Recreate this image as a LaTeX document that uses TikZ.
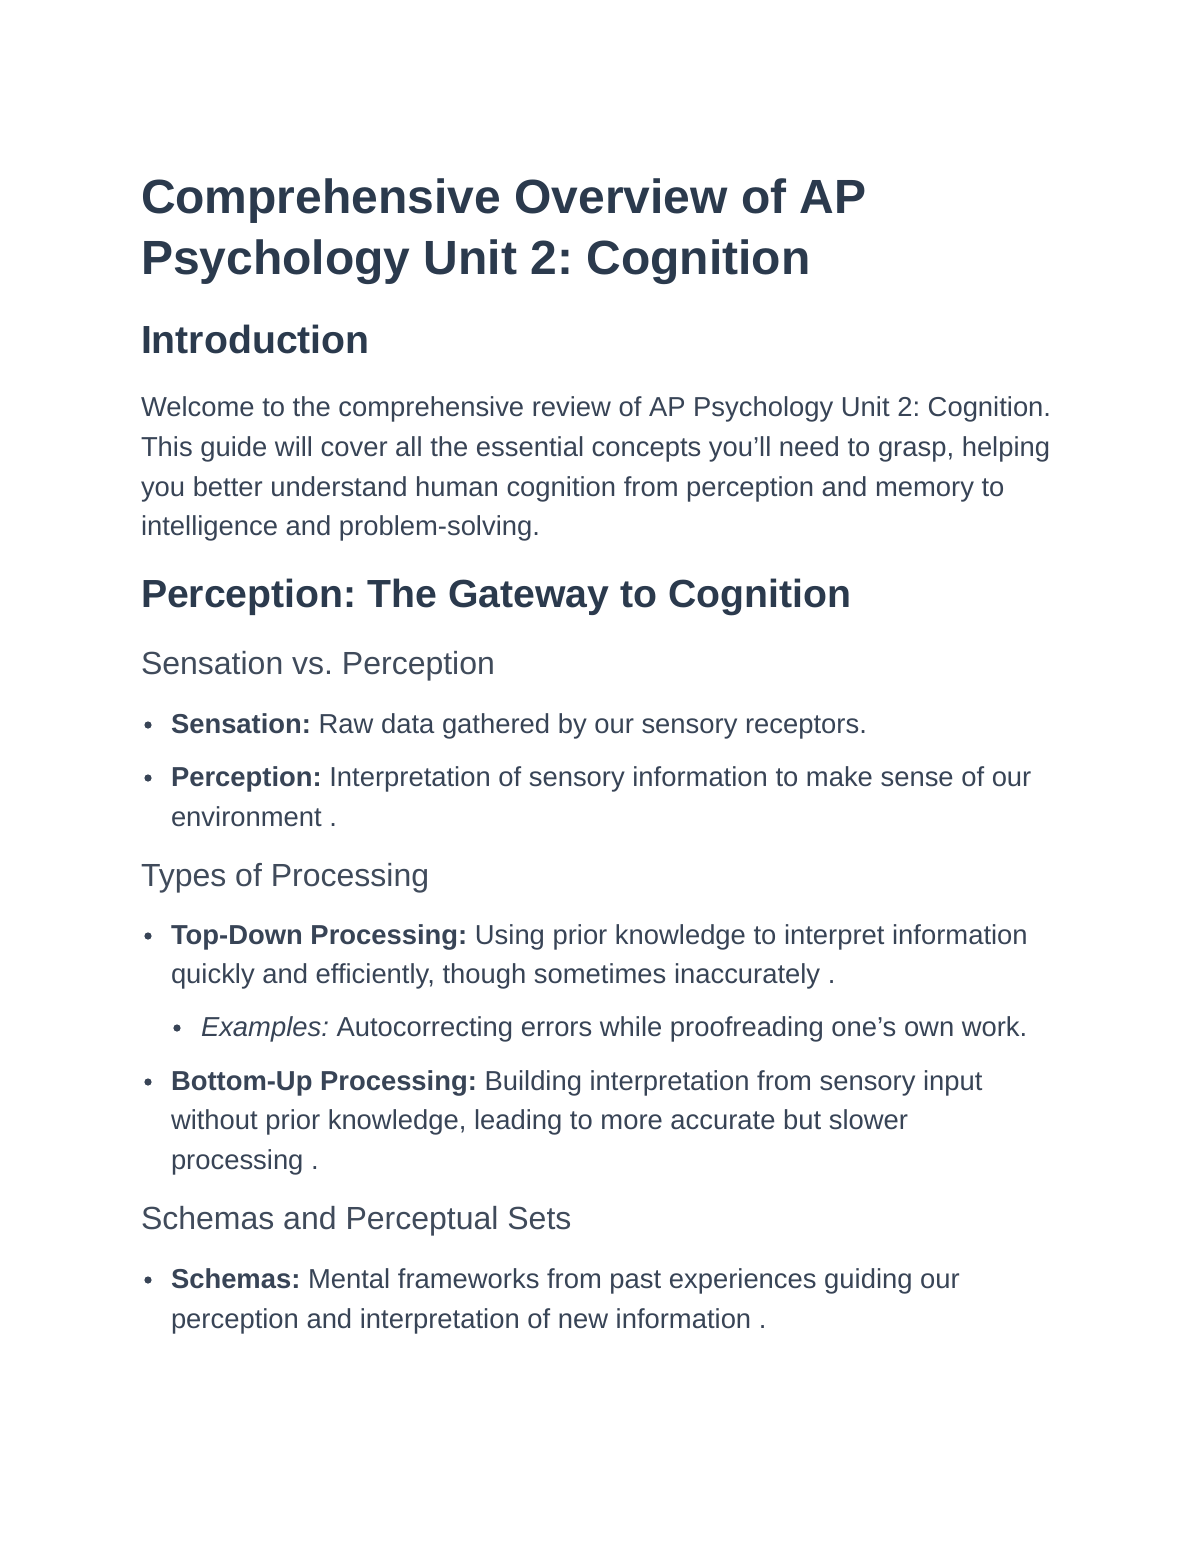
\documentclass[tikz,border=0pt]{standalone}
\usepackage{fontspec}
\setmainfont{Liberation Sans}
\usepackage{tikz}
\frenchspacing
\definecolor{titleink}{HTML}{2B3A4D}
\definecolor{bodyink}{HTML}{384456}
\definecolor{subink}{HTML}{404B5B}
\tikzset{
    line/.style={anchor=base west, inner sep=0pt, outer sep=0pt},
    doctitle/.style={line, color=titleink, font=\fontsize{24}{29}\selectfont\bfseries},
    sechead/.style={line, color=titleink, font=\fontsize{19.6}{24}\selectfont\bfseries},
    subhead/.style={line, color=subink, font=\fontsize{16}{20}\selectfont},
    bodytext/.style={line, color=bodyink, font=\fontsize{13.7}{18}\selectfont},
}
\newcommand{\dotmark}[2]{\fill[bodyink] (#1,#2-8) circle (3.6);}
\begin{document}
\begin{tikzpicture}[x=0.5pt, y=-0.5pt]
\useasboundingbox[fill=white] (0,0) rectangle (1200,1553);
% title
\node[doctitle] (title1) at (141,213) {Comprehensive Overview of AP};
\node[doctitle] (title2) at (141,274) {Psychology Unit 2: Cognition};
% introduction
\node[sechead] (intro) at (141,353) {Introduction};
\node[bodytext] (intro1) at (141,416) {Welcome to the comprehensive review of AP Psychology Unit 2: Cognition.};
\node[bodytext] (intro2) at (141,456) {This guide will cover all the essential concepts you'll need to grasp, helping};
\node[bodytext] (intro3) at (141,496) {you better understand human cognition from perception and memory to};
\node[bodytext] (intro4) at (141,535) {intelligence and problem-solving.};
% perception
\node[sechead] (percep) at (141,607) {Perception: The Gateway to Cognition};
\node[subhead] (sensvs) at (141,674) {Sensation vs. Perception};
\dotmark{148}{733}
\node[bodytext] (sens) at (171,733) {\textbf{Sensation:} Raw data gathered by our sensory receptors.};
\dotmark{148}{786}
\node[bodytext] (perc1) at (171,786) {\textbf{Perception:} Interpretation of sensory information to make sense of our};
\node[bodytext] (perc2) at (171,826) {environment .};
% processing
\node[subhead] (types) at (141,886) {Types of Processing};
\dotmark{148}{944}
\node[bodytext] (topdown1) at (171,944) {\textbf{Top-Down Processing:} Using prior knowledge to interpret information};
\node[bodytext] (topdown2) at (171,983) {quickly and efficiently, though sometimes inaccurately .};
\dotmark{177}{1036}
\node[bodytext] (example) at (201,1036) {\textit{Examples:} Autocorrecting errors while proofreading one's own work.};
\dotmark{148}{1090}
\node[bodytext] (botup1) at (171,1090) {\textbf{Bottom-Up Processing:} Building interpretation from sensory input};
\node[bodytext] (botup2) at (171,1129) {without prior knowledge, leading to more accurate but slower};
\node[bodytext] (botup3) at (171,1169) {processing .};
% schemas
\node[subhead] (schemhead) at (141,1229) {Schemas and Perceptual Sets};
\dotmark{148}{1288}
\node[bodytext] (schem1) at (171,1288) {\textbf{Schemas:} Mental frameworks from past experiences guiding our};
\node[bodytext] (schem2) at (171,1328) {perception and interpretation of new information .};
\end{tikzpicture}
\end{document}
